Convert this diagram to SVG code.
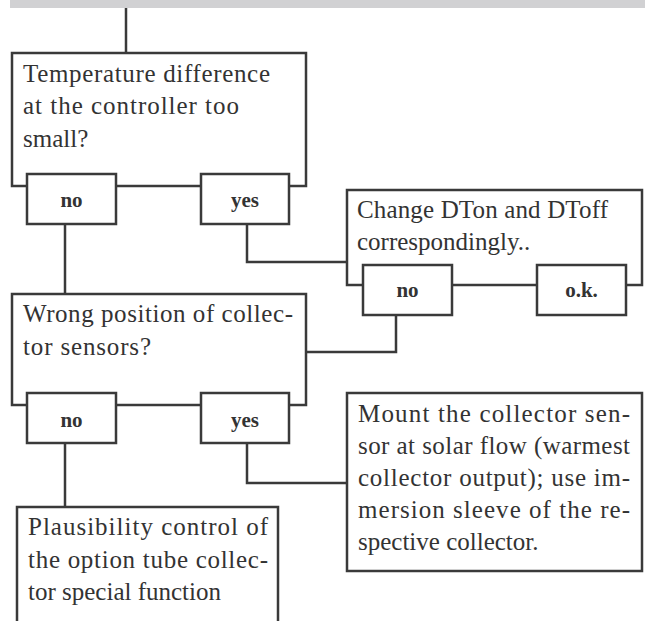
<svg xmlns="http://www.w3.org/2000/svg" width="651" height="621" viewBox="0 0 651 621">
<style>
.box{fill:#fff;stroke:#3a3a3a;stroke-width:2.5}
.ln{fill:none;stroke:#3a3a3a;stroke-width:2.5}
.t{font-family:"Liberation Serif","Times New Roman",serif;font-size:25px;fill:#333}
.b{font-family:"Liberation Serif","Times New Roman",serif;font-size:21px;font-weight:bold;fill:#333;text-anchor:middle}
</style>
<rect x="10" y="0" width="635" height="8" fill="#d1d1d3"/>
<g id="connectors">
<path class="ln" d="M126 8V53"/>
<path class="ln" d="M65 224V294"/>
<path class="ln" d="M247 224V262H347"/>
<path class="ln" d="M396 315V352H306"/>
<path class="ln" d="M65 443V507"/>
<path class="ln" d="M247 443V483H347"/>
</g>
<g id="q1">
<rect class="box" x="12" y="53" width="294" height="133"/>
<text class="t" x="23" y="82" textLength="247" lengthAdjust="spacing">Temperature difference</text>
<text class="t" x="23" y="114" textLength="216" lengthAdjust="spacing">at the controller too</text>
<text class="t" x="23" y="147">small?</text>
</g>
<g id="q1-no"><rect class="box" x="27" y="174" width="89" height="50"/><text class="b" x="71.5" y="207">no</text></g>
<g id="q1-yes"><rect class="box" x="201" y="174" width="88" height="50"/><text class="b" x="245" y="207">yes</text></g>
<g id="change">
<rect class="box" x="347" y="190" width="295" height="95"/>
<text class="t" x="357" y="218" textLength="251" lengthAdjust="spacing">Change DTon and DToff</text>
<text class="t" x="357" y="250">correspondingly..</text>
</g>
<g id="change-no"><rect class="box" x="363" y="265" width="89" height="50"/><text class="b" x="407.5" y="297">no</text></g>
<g id="change-ok"><rect class="box" x="537" y="265" width="89" height="50"/><text class="b" x="581.5" y="297">o.k.</text></g>
<g id="q2">
<rect class="box" x="12" y="294" width="294" height="111"/>
<text class="t" x="23" y="322" textLength="270" lengthAdjust="spacing">Wrong position of collec-</text>
<text class="t" x="23" y="355" textLength="128" lengthAdjust="spacing">tor sensors?</text>
</g>
<g id="q2-no"><rect class="box" x="27" y="393" width="89" height="50"/><text class="b" x="71.5" y="427">no</text></g>
<g id="q2-yes"><rect class="box" x="201" y="393" width="88" height="50"/><text class="b" x="245" y="427">yes</text></g>
<g id="mount">
<rect class="box" x="347" y="393" width="295" height="178"/>
<text class="t" x="358" y="422" textLength="272" lengthAdjust="spacing">Mount the collector sen-</text>
<text class="t" x="358" y="454" textLength="272" lengthAdjust="spacing">sor at solar flow (warmest</text>
<text class="t" x="358" y="486" textLength="272" lengthAdjust="spacing">collector output); use im-</text>
<text class="t" x="358" y="518" textLength="272" lengthAdjust="spacing">mersion sleeve of the re-</text>
<text class="t" x="358" y="550">spective collector.</text>
</g>
<g id="plaus">
<rect class="box" x="17" y="507" width="261" height="130"/>
<text class="t" x="28" y="535" textLength="240" lengthAdjust="spacing">Plausibility control of</text>
<text class="t" x="28" y="568" textLength="240" lengthAdjust="spacing">the option tube collec-</text>
<text class="t" x="28" y="600">tor special function</text>
</g>
</svg>
